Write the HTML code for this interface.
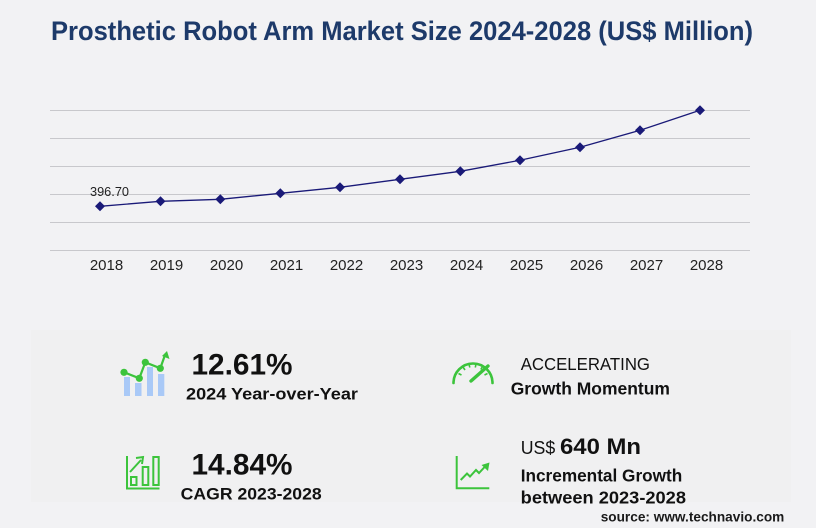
<!DOCTYPE html>
<html><head><meta charset="utf-8"><style>
html,body{margin:0;padding:0;background:#f2f2f4;}
svg{display:block;}
text{font-family:"Liberation Sans",sans-serif;}
</style></head><body>
<svg width="816" height="528" viewBox="0 0 816 528" xmlns="http://www.w3.org/2000/svg">
<rect x="0" y="0" width="816" height="528" fill="#f2f2f4"/>
<rect x="31" y="330" width="760" height="172" fill="#f0f0f1"/>
<!-- title -->
<text x="51" y="40" font-size="27" font-weight="bold" fill="#1d3a6a" textLength="702" lengthAdjust="spacingAndGlyphs">Prosthetic Robot Arm Market Size 2024-2028 (US$ Million)</text>
<!-- grid -->
<g stroke="#c8c8cc" stroke-width="1">
<line x1="50" y1="110.5" x2="750" y2="110.5"/>
<line x1="50" y1="138.5" x2="750" y2="138.5"/>
<line x1="50" y1="166.5" x2="750" y2="166.5"/>
<line x1="50" y1="194.5" x2="750" y2="194.5"/>
<line x1="50" y1="222.5" x2="750" y2="222.5"/>
<line x1="50" y1="250.5" x2="750" y2="250.5"/>
</g>
<!-- line -->
<polyline fill="none" stroke="#1a1a78" stroke-width="1.3" points="100,206.3 160.5,201.3 220.3,199.3 280.3,193.3 340,187.3 400,179.3 460.3,171.3 520,160.3 580,147.3 640,130.3 700,110.3"/>
<g fill="#1a1a78">
<path d="M100 201.3 L105 206.3 L100 211.3 L95 206.3Z"/>
<path d="M160.5 196.3 L165.5 201.3 L160.5 206.3 L155.5 201.3Z"/>
<path d="M220.3 194.3 L225.3 199.3 L220.3 204.3 L215.3 199.3Z"/>
<path d="M280.3 188.3 L285.3 193.3 L280.3 198.3 L275.3 193.3Z"/>
<path d="M340 182.3 L345 187.3 L340 192.3 L335 187.3Z"/>
<path d="M400 174.3 L405 179.3 L400 184.3 L395 179.3Z"/>
<path d="M460.3 166.3 L465.3 171.3 L460.3 176.3 L455.3 171.3Z"/>
<path d="M520 155.3 L525 160.3 L520 165.3 L515 160.3Z"/>
<path d="M580 142.3 L585 147.3 L580 152.3 L575 147.3Z"/>
<path d="M640 125.3 L645 130.3 L640 135.3 L635 130.3Z"/>
<path d="M700 105.3 L705 110.3 L700 115.3 L695 110.3Z"/>
</g>
<text x="90" y="196" font-size="12.5" fill="#222" textLength="39" lengthAdjust="spacingAndGlyphs">396.70</text>
<!-- x labels -->
<g font-size="15" fill="#222" text-anchor="middle">
<text x="106.5" y="270">2018</text>
<text x="166.5" y="270">2019</text>
<text x="226.5" y="270">2020</text>
<text x="286.5" y="270">2021</text>
<text x="346.5" y="270">2022</text>
<text x="406.5" y="270">2023</text>
<text x="466.5" y="270">2024</text>
<text x="526.5" y="270">2025</text>
<text x="586.5" y="270">2026</text>
<text x="646.5" y="270">2027</text>
<text x="706.5" y="270">2028</text>
</g>
<!-- icon 1 -->
<g fill="#a9c9f7">
<rect x="124" y="377" width="6" height="19"/>
<rect x="135" y="383" width="6.5" height="13"/>
<rect x="147" y="367" width="6" height="29"/>
<rect x="158" y="374" width="6.3" height="22"/>
</g>
<g stroke="#3cc43c" stroke-width="2.2" fill="none">
<polyline points="124,372.3 139.3,378.3 145.3,362.3 160.3,368.3 165,355"/>
</g>
<g fill="#3cc43c">
<circle cx="124" cy="372.3" r="3.6"/>
<circle cx="139.3" cy="378.3" r="3.6"/>
<circle cx="145.3" cy="362.3" r="3.6"/>
<circle cx="160.3" cy="368.3" r="3.6"/>
<path d="M167 351 L169.5 359 L162 356Z"/>
</g>
<!-- icon 2 -->
<g stroke="#3cc43c" stroke-width="2" fill="none">
<polyline points="127,456 127,488.5 159.5,488.5"/>
<rect x="131" y="477" width="5.5" height="8"/>
<rect x="142.7" y="467" width="5.6" height="18"/>
<rect x="153.3" y="457" width="5.4" height="28"/>
<line x1="130" y1="472" x2="141" y2="460"/>
<polyline points="136,458 143,457 142,464"/>
</g>
<!-- icon 3 gauge -->
<g stroke="#3cc43c" stroke-width="2.6" fill="none" stroke-linecap="round">
<path d="M453.5 383 A19.5 19.5 0 0 1 492.5 383"/>
<line x1="471" y1="381" x2="488" y2="366" stroke-width="3.4"/>
</g>
<g stroke="#3cc43c" stroke-width="1.6">
<line x1="458.5" y1="373.5" x2="461.5" y2="375"/>
<line x1="463" y1="367" x2="465" y2="370"/>
<line x1="469" y1="364" x2="469.8" y2="367.5"/>
<line x1="476" y1="364" x2="475.3" y2="367.5"/>
<line x1="482.5" y1="366.5" x2="480.8" y2="369.5"/>
<line x1="487.5" y1="373.5" x2="484.5" y2="375"/>
</g>
<!-- icon 4 trend -->
<g stroke="#3cc43c" stroke-width="2" fill="none">
<polyline points="456.7,456 456.7,488.3 489.3,488.3"/>
<polyline points="460.7,480 467,473.5 470,476.5 476,470 479,473 486,465.5"/>
</g>
<path d="M489.5 462.5 L488 471 L481.5 465Z" fill="#3cc43c"/>
<!-- KPI texts -->
<text x="191.5" y="374.3" font-size="30" font-weight="bold" fill="#111" textLength="101" lengthAdjust="spacingAndGlyphs">12.61%</text>
<text x="186" y="399.3" font-size="17" font-weight="bold" fill="#111" textLength="172" lengthAdjust="spacingAndGlyphs">2024 Year-over-Year</text>
<text x="191.5" y="474.3" font-size="30" font-weight="bold" fill="#111" textLength="101" lengthAdjust="spacingAndGlyphs">14.84%</text>
<text x="180.7" y="499.3" font-size="17" font-weight="bold" fill="#111" textLength="141" lengthAdjust="spacingAndGlyphs">CAGR 2023-2028</text>
<text x="520.7" y="370" font-size="17.5" fill="#111" textLength="129.3" lengthAdjust="spacingAndGlyphs">ACCELERATING</text>
<text x="510.7" y="394.3" font-size="17.5" font-weight="bold" fill="#111" textLength="159.3" lengthAdjust="spacingAndGlyphs">Growth Momentum</text>
<text x="520.7" y="454" font-size="18" fill="#111" textLength="34.5" lengthAdjust="spacingAndGlyphs">US$</text>
<text x="560" y="454" font-size="22.5" font-weight="bold" fill="#111" textLength="81" lengthAdjust="spacingAndGlyphs">640 Mn</text>
<text x="520.7" y="481.7" font-size="17.5" font-weight="bold" fill="#111" textLength="161.6" lengthAdjust="spacingAndGlyphs">Incremental Growth</text>
<text x="520.7" y="503.3" font-size="17.5" font-weight="bold" fill="#111" textLength="165.3" lengthAdjust="spacingAndGlyphs">between 2023-2028</text>
<text x="600.7" y="521.7" font-size="14" font-weight="bold" fill="#1a1a1a" textLength="183.6" lengthAdjust="spacingAndGlyphs">source: www.technavio.com</text>
</svg>
</body></html>
